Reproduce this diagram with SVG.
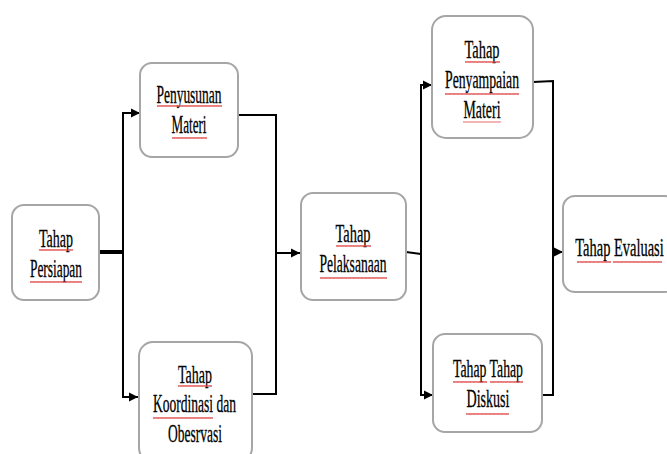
<svg xmlns="http://www.w3.org/2000/svg" width="667" height="454" viewBox="0 0 667 454">
<style>
.box{fill:#fff;stroke:#a6a6a6;stroke-width:2}
.t{font-family:"Liberation Serif","Times New Roman",serif;font-size:25px;fill:#000;stroke:#000;stroke-width:0.3;text-anchor:middle}
.c{fill:none;stroke:#000;stroke-width:2}
.sq{fill:url(#sq)}
</style>
<defs>
<marker id="ah" markerUnits="userSpaceOnUse" markerWidth="10" markerHeight="10" refX="9" refY="5" orient="auto">
<path d="M0,0.5 L9,5 L0,9.5 z" fill="#000"/>
</marker>
<pattern id="sq" width="4" height="4" patternUnits="userSpaceOnUse">
<path d="M0,3 L1,1 L2,3 L3,1 L4,3" fill="none" stroke="#e04040" stroke-width="0.8"/>
</pattern>
</defs>
<rect width="667" height="454" fill="#fff"/>
<g id="connectors">
<path class="c" d="M100,252 H123" style="stroke-width:4"/>
<path class="c" d="M123,252 V113 H140" marker-end="url(#ah)"/>
<path class="c" d="M123,252 V397 H138" marker-end="url(#ah)"/>
<path class="c" d="M238,115 H276 V253"/>
<path class="c" d="M252,394 H276 V253"/>
<path class="c" d="M276,253 H300" marker-end="url(#ah)"/>
<path class="c" d="M406,252 L421,254"/>
<path class="c" d="M421,254 V85 H432" marker-end="url(#ah)"/>
<path class="c" d="M421,254 V395 H433" marker-end="url(#ah)"/>
<path class="c" d="M533,82 L553,81 V252"/>
<path class="c" d="M542,395 H553 V252"/>
<path class="c" d="M553,252 H563" marker-end="url(#ah)"/>
</g>
<g id="n-persiapan">
<rect class="box" x="12" y="205" width="87" height="95" rx="12"/>
<text class="t" x="56" y="247" textLength="34" lengthAdjust="spacingAndGlyphs">Tahap</text>
<text class="t" x="56" y="277" textLength="52" lengthAdjust="spacingAndGlyphs">Persiapan</text>
<rect class="sq" x="39" y="248" width="34" height="4"/>
<rect class="sq" x="30" y="280" width="52" height="4"/>
</g>
<g id="n-penyusunan">
<rect class="box" x="140" y="63" width="98" height="94" rx="12"/>
<text class="t" x="189" y="103" textLength="65" lengthAdjust="spacingAndGlyphs">Penyusunan</text>
<text class="t" x="189" y="133" textLength="35" lengthAdjust="spacingAndGlyphs">Materi</text>
<rect class="sq" x="157" y="104" width="65" height="4"/>
<rect class="sq" x="172" y="136" width="35" height="4"/>
</g>
<g id="n-koordinasi">
<rect class="box" x="139" y="342" width="113" height="120" rx="14"/>
<text class="t" x="195" y="383" textLength="34" lengthAdjust="spacingAndGlyphs">Tahap</text>
<text class="t" x="194.5" y="412" textLength="83" lengthAdjust="spacingAndGlyphs">Koordinasi dan</text>
<text class="t" x="195" y="442" textLength="54" lengthAdjust="spacingAndGlyphs">Obesrvasi</text>
<rect class="sq" x="178" y="384" width="34" height="4"/>
<rect class="sq" x="153" y="416" width="60" height="4"/>
</g>
<g id="n-pelaksanaan">
<rect class="box" x="301" y="193" width="105" height="107" rx="12"/>
<text class="t" x="353" y="242" textLength="35" lengthAdjust="spacingAndGlyphs">Tahap</text>
<text class="t" x="353" y="272" textLength="67" lengthAdjust="spacingAndGlyphs">Pelaksanaan</text>
<rect class="sq" x="336" y="244" width="35" height="4"/>
<rect class="sq" x="320" y="276" width="67" height="4"/>
</g>
<g id="n-penyampaian">
<rect class="box" x="432" y="16" width="101" height="122" rx="14"/>
<text class="t" x="482" y="58" textLength="35" lengthAdjust="spacingAndGlyphs">Tahap</text>
<text class="t" x="482" y="88" textLength="74" lengthAdjust="spacingAndGlyphs">Penyampaian</text>
<text class="t" x="482" y="118" textLength="37" lengthAdjust="spacingAndGlyphs">Materi</text>
<rect class="sq" x="465" y="60" width="35" height="4"/>
<rect class="sq" x="445" y="92" width="74" height="4"/>
<rect class="sq" x="463" y="120" width="38" height="4" opacity="0.6"/>
</g>
<g id="n-diskusi">
<rect class="box" x="433" y="334" width="109" height="98" rx="12"/>
<text class="t" x="488" y="377" textLength="70" lengthAdjust="spacingAndGlyphs">Tahap Tahap</text>
<text class="t" x="488" y="407" textLength="43" lengthAdjust="spacingAndGlyphs">Diskusi</text>
<rect class="sq" x="453" y="380" width="34" height="4"/>
<rect class="sq" x="490" y="380" width="33" height="4"/>
<rect class="sq" x="466" y="412" width="43" height="4"/>
</g>
<g id="n-evaluasi">
<rect class="box" x="563" y="196" width="114" height="96" rx="12"/>
<text class="t" transform="translate(619.5,256) scale(0.578,1)" x="0" y="0">Tahap Evaluasi</text>
<rect class="sq" x="577" y="260" width="34" height="4"/>
<rect class="sq" x="613" y="260" width="49" height="4"/>
</g>
</svg>
